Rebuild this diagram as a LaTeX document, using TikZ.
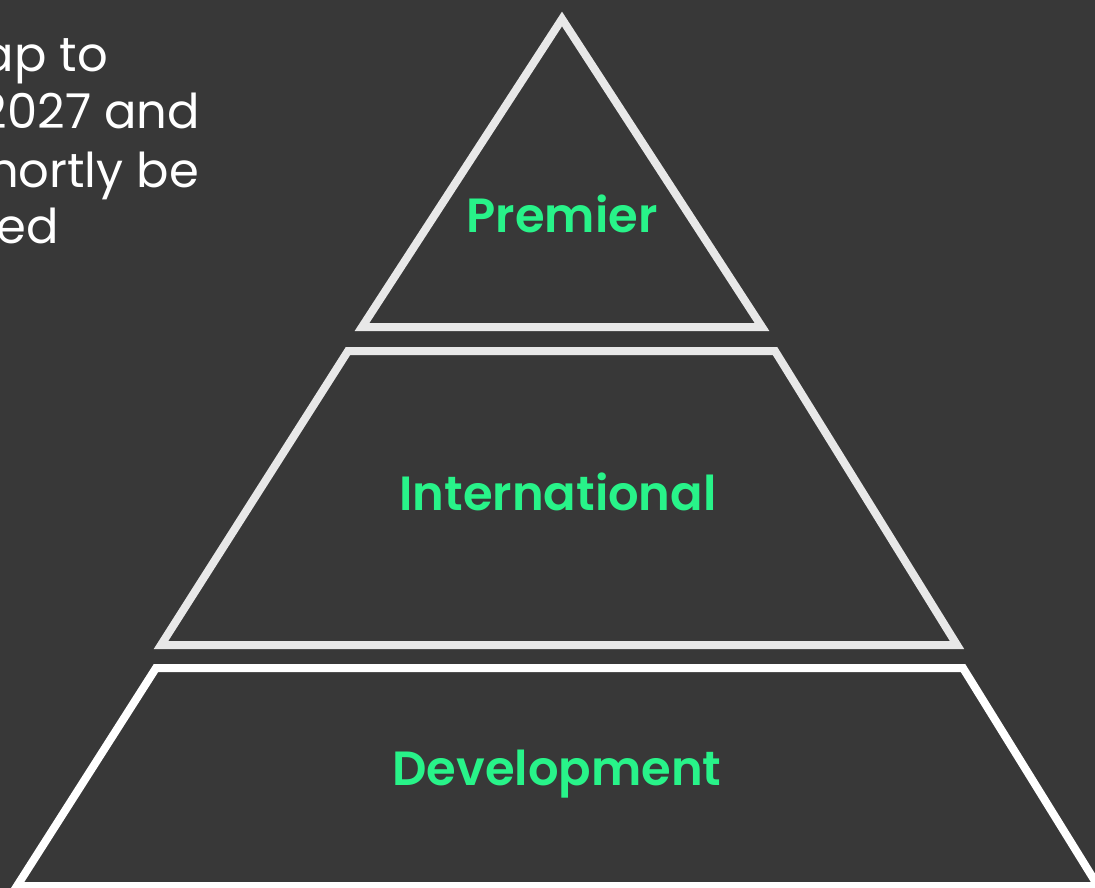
\documentclass[tikz,border=0pt]{standalone}
\usepackage{fontspec}
\setmainfont{Poppins}
\newfontfamily\popsb{Poppins SemiBold}
\definecolor{bgdark}{HTML}{383838}
\definecolor{tiergreen}{HTML}{28F389}
\definecolor{edgegrey}{HTML}{E8E8E8}
\begin{document}
\begin{tikzpicture}[x=1pt,y=-1pt,
  tier/.style={draw=edgegrey,line width=8pt,line join=miter},
  tierlabel/.style={text=tiergreen,font=\popsb\fontsize{48}{56}\selectfont,inner sep=0pt,anchor=base},
  note/.style={text=white,font=\fontsize{48}{57}\selectfont,inner sep=0pt,anchor=base east}]
\useasboundingbox (0,0) rectangle (1095,888);
\clip (0,0) rectangle (1095,888);
\fill[bgdark] (0,0) rectangle (1095,888);
% tiers
\draw[tier] (562,19) -- (762,327) -- (362,327) -- cycle;
\draw[tier] (348,351) -- (775,351) -- (957,645) -- (161,645) -- cycle;
\draw[tier,draw=white] (156,668) -- (963,668) -- (1098,886) -- (17,886) -- cycle;
% labels
\node[tierlabel] (premier) at (562,232) {Premier};
\node[tierlabel] (international) at (558,510) {International};
\node[tierlabel] (development) at (557,785) {Development};
% cut-off note
\node[note] (n1) at (108,72) {ap to};
\node[note] (n2) at (200,129) {2027 and};
\node[note] (n3) at (199,187) {hortly be};
\node[note] (n4) at (59,243) {ed};
\end{tikzpicture}
\end{document}
